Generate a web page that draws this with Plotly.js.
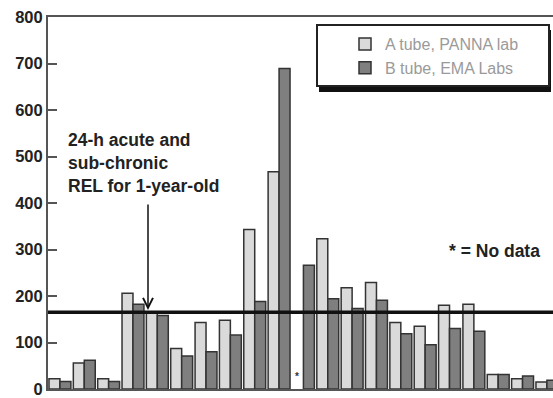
<!DOCTYPE html>
<html>
<head>
<meta charset="utf-8">
<script src="https://cdn.plot.ly/plotly-3.0.1.min.js"></script>
<style>html,body{margin:0;padding:0;background:#fff;}#chart{width:553px;height:398px;}</style>
</head>
<body>
<div id="chart"></div>
<script>
// Data
const sites = ["1","2","3","4","5","6","7","8","9","10","11","12","13","14","15","16","17","18","19","20","21"];
const tubeA = [22, 56, 22, 206, 165, 87, 143, 148, 343, 467, null, 323, 218, 229, 143, 135, 180, 182, 31, 22, 15];
const tubeB = [16, 62, 16, 182, 158, 71, 80, 116, 188, 689, 266, 194, 173, 191, 119, 95, 130, 124, 31, 28, 19];
const seriesNames = ["A tube, PANNA lab", "B tube, EMA Labs"];
const relValue = 165;
const yTicks = [0, 100, 200, 300, 400, 500, 600, 700, 800];
const noDataIndex = 10;

const FONT = "Liberation Sans, Arial, Helvetica, sans-serif";

const traces = [
  {type: 'bar', x: sites, y: tubeA, name: seriesNames[0],
   marker: {color: '#dadada', line: {color: '#333333', width: 1.5}}, hoverinfo: 'skip'},
  {type: 'bar', x: sites, y: tubeB, name: seriesNames[1],
   marker: {color: '#7f7f7f', line: {color: '#333333', width: 1.5}}, hoverinfo: 'skip'}
];

// pixel helpers for paper placement
const L = 48, T = 17, W = 505, H = 372;
const px = v => (v - L) / W;
const py = v => 1 - (v - T) / H;

const layout = {
  width: 553, height: 398,
  margin: {l: L, r: 0, t: T, b: 9, pad: 0},
  paper_bgcolor: '#ffffff', plot_bgcolor: '#ffffff',
  font: {family: FONT, size: 17, color: '#222'},
  barmode: 'group', bargap: 0.1, bargroupgap: 0,
  showlegend: true,
  legend: {x: px(345), y: py(27), xanchor: 'left', yanchor: 'top',
           bgcolor: 'rgba(0,0,0,0)', borderwidth: 0,
           font: {family: FONT, size: 16, color: '#9a9a9a'}},
  xaxis: {type: 'category', range: [-0.49, 20.25], showticklabels: false, ticks: '',
          showgrid: false, zeroline: false, showline: true, linecolor: '#555', linewidth: 2,
          mirror: true, fixedrange: true},
  yaxis: {range: [0, 800], tickvals: yTicks, ticks: 'inside', ticklen: 9, tickwidth: 2,
          tickcolor: '#555', showgrid: false, zeroline: false, showline: true,
          linecolor: '#555', linewidth: 2, fixedrange: true, ticklabeloverflow: 'allow',
          tickfont: {family: FONT, size: 16.5, color: '#222', weight: 'bold'}},
  shapes: [
    // legend shadow and box
    {type: 'rect', xref: 'paper', yref: 'paper', x0: px(319), x1: px(551), y0: py(92), y1: py(30),
     fillcolor: '#111', line: {width: 0}, layer: 'above'},
    {type: 'rect', xref: 'paper', yref: 'paper', x0: px(317), x1: px(549), y0: py(86), y1: py(25),
     fillcolor: '#ffffff', line: {color: '#222', width: 2}, layer: 'above'},
    // REL line
    {type: 'line', xref: 'paper', yref: 'y', x0: 0, x1: 1, y0: relValue, y1: relValue,
     line: {color: '#111', width: 3.5}, layer: 'above'}
  ],
  annotations: [
    {xref: 'paper', yref: 'paper', x: px(66), y: py(163), xanchor: 'left', yanchor: 'middle',
     align: 'left', showarrow: false,
     text: '24-h acute and<br>sub-chronic<br>REL for 1-year-old',
     font: {family: FONT, size: 17.5, color: '#222', weight: 'bold'}},
    {xref: 'paper', yref: 'paper', x: px(148), y: py(310), ax: px(148), ay: py(203),
     axref: 'paper', ayref: 'paper', showarrow: true, arrowhead: 5, arrowsize: 1.3,
     arrowwidth: 1.5, arrowcolor: '#111', text: ''},
    {xref: 'paper', yref: 'paper', x: px(447), y: py(251), xanchor: 'left', yanchor: 'middle',
     showarrow: false, text: '* = No data',
     font: {family: FONT, size: 17.5, color: '#222', weight: 'bold'}},
    {xref: 'x', yref: 'y', x: noDataIndex, y: 26, xshift: -6, showarrow: false, text: '*',
     font: {family: FONT, size: 10, color: '#333', weight: 'bold'}}
  ]
};

Plotly.newPlot('chart', traces, layout, {staticPlot: true, displayModeBar: false});
</script>
</body>
</html>
